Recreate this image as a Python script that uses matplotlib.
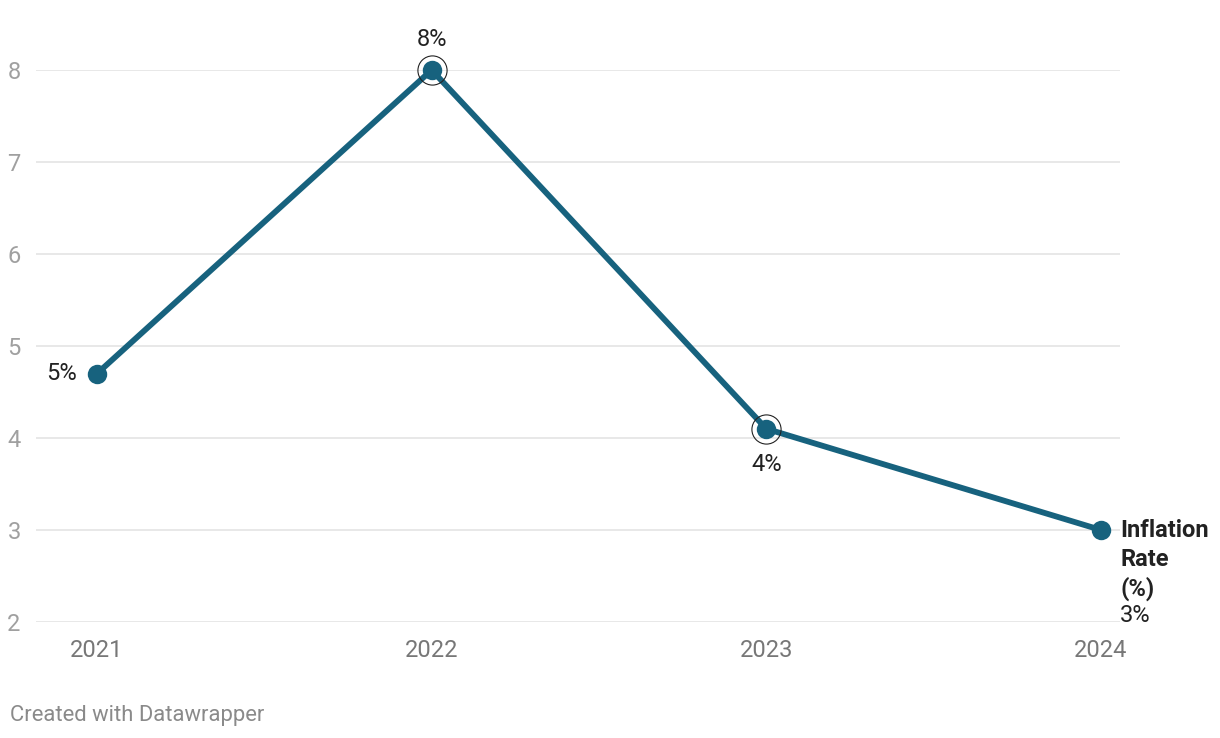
import matplotlib
matplotlib.use("Agg")
from matplotlib import pyplot as plt

plt.rcParams['font.family'] = ['Roboto', 'DejaVu Sans']

# data
years = [2021, 2022, 2023, 2024]
inflation = [4.7, 8.0, 4.1, 3.0]
value_labels = ['5%', '8%', '4%', '3%']
highlighted = [2022, 2023]
y_ticks = [2, 3, 4, 5, 6, 7, 8]
series_name = 'Inflation\nRate\n(%)'

line_color = '#17627e'

fig = plt.figure(figsize=(12.2, 7.38), dpi=100)
ax = fig.add_axes([36 / 1220, 1 - 622 / 738, (1120 - 36) / 1220, (622 - 70) / 738])

ax.set_xlim(2021 - 61 / 334.67, 2024 + 19 / 334.67)
ax.set_ylim(2, 8)

# grid
for t in y_ticks:
    ax.axhline(t, color='#e1e1e1', lw=1.1, zorder=1)

ax.plot(years, inflation, color=line_color, lw=4.2, zorder=3,
        solid_capstyle='round', clip_on=False)

# highlight rings
hx = [y for y in years if y in highlighted]
hy = [inflation[years.index(y)] for y in hx]
ax.plot(hx, hy, 'o', ms=21, mfc='none', mec='#222222', mew=0.8, zorder=4, clip_on=False)
ax.plot(years, inflation, 'o', ms=14, color=line_color, mew=0.0,
        zorder=5, clip_on=False)

# value labels
fs_val = 17
ax.annotate(value_labels[0], (years[0], inflation[0]), xytext=(-20, 0),
            textcoords='offset pixels', ha='right', va='center', fontsize=fs_val, color='#222222')
ax.annotate(value_labels[1], (years[1], inflation[1]), xytext=(0, 30),
            textcoords='offset pixels', ha='center', va='center', fontsize=fs_val, color='#222222')
ax.annotate(value_labels[2], (years[2], inflation[2]), xytext=(0, -36),
            textcoords='offset pixels', ha='center', va='center', fontsize=fs_val, color='#222222')
ax.annotate(series_name, (years[3], inflation[3]), xytext=(19, 11),
            textcoords='offset pixels', ha='left', va='top', fontsize=fs_val,
            fontweight='bold', color='#222222', linespacing=1.32)
ax.annotate(value_labels[3], (years[3], inflation[3]), xytext=(19, -85),
            textcoords='offset pixels', ha='left', va='center', fontsize=fs_val, color='#222222')

# axes styling
for s in ax.spines.values():
    s.set_visible(False)
ax.set_yticks(y_ticks)
ax.set_yticklabels([str(t) for t in y_ticks])
ax.set_xticks(years)
ax.set_xticklabels([str(y) for y in years])
ax.tick_params(axis='y', length=0, pad=11, labelsize=17, labelcolor='#a0a0a0')
ax.tick_params(axis='x', length=0, pad=12, labelsize=17, labelcolor='#777777')
ax.set_facecolor('white')
fig.patch.set_facecolor('white')

fig.text(10 / 1220, 1 - 715 / 738, 'Created with Datawrapper', fontsize=15.8,
         color='#8a8a8a', ha='left', va='center')

fig.savefig('out.png', dpi=100)
